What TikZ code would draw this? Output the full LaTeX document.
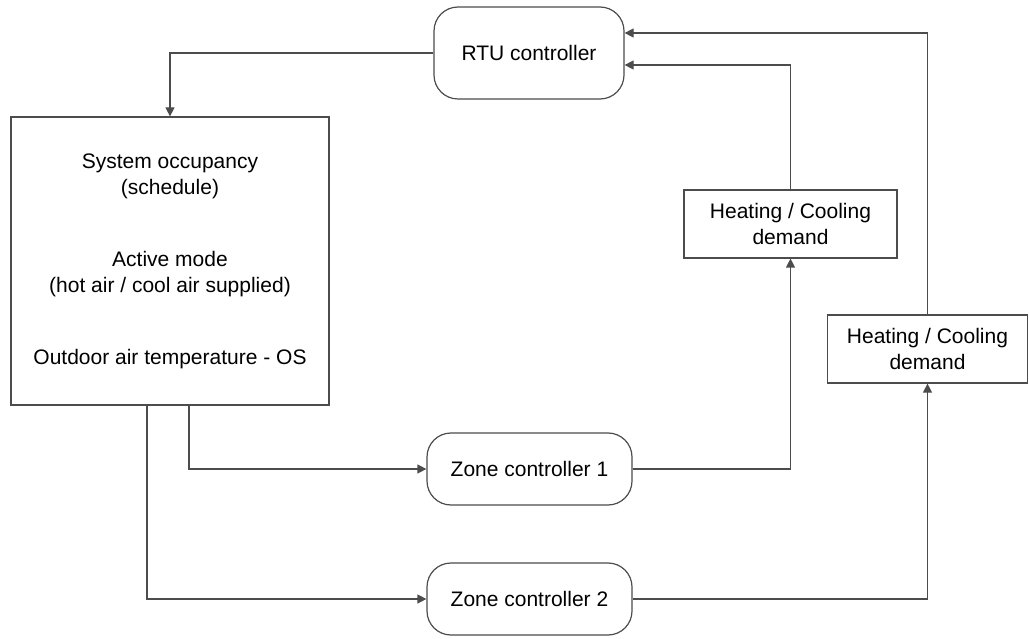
\documentclass[tikz,border=0pt]{standalone}
\usepackage{fontspec}
\setmainfont{Liberation Sans}
\usetikzlibrary{arrows.meta,positioning}

\begin{document}
\begin{tikzpicture}[
  x=1pt, y=-1pt,
  box/.style={rectangle, draw=black!70, line width=1.2pt, align=center,
              font=\fontsize{21}{26}\selectfont},
  pill/.style={box, rounded corners=24pt, minimum width=205pt,
               minimum height=72pt},
  demand/.style={box, minimum width=213pt, minimum height=68pt},
  arr/.style={-{Triangle[length=9pt,width=9pt]}, draw=black!70, line width=1.2pt},
]
  \useasboundingbox (0,0) rectangle (1029,639);

  % Controllers
  \node[pill, minimum width=190pt, minimum height=92pt] (rtu) at (529,53) {RTU controller};
  \node[pill] (zone1) at (529.5,469) {Zone controller 1};
  \node[pill] (zone2) at (529.5,599) {Zone controller 2};

  % System state
  \node[box, minimum width=318pt, minimum height=288pt] (sys) at (170,261)
    {System occupancy\\(schedule)\\[46pt]Active mode\\(hot air / cool air supplied)\\[46pt]Outdoor air temperature - OS};

  % Demand signals
  \node[demand] (hc1) at (790.5,224) {Heating / Cooling\\demand};
  \node[demand, minimum width=200pt] (hc2) at (927.5,349) {Heating / Cooling\\demand};

  % Arrows
  \draw[arr] (rtu.west) -| (sys.north);
  \draw[arr] ([xshift=19pt]sys.south) |- (zone1.west);
  \draw[arr] ([xshift=-23pt]sys.south) |- (zone2.west);
  \draw[arr] (zone1.east) -| (hc1.south);
  \draw[arr] (zone2.east) -| (hc2.south);
  \draw[arr] (hc1.north) |- ([yshift=-12pt]rtu.east);
  \draw[arr] (hc2.north) |- ([yshift=20pt]rtu.east);
\end{tikzpicture}
\end{document}
